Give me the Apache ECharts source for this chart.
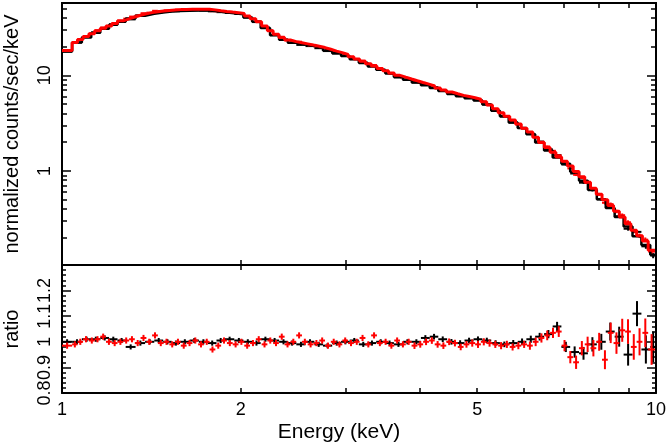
<!DOCTYPE html>
<html><head><meta charset="utf-8">
<script src="https://cdn.jsdelivr.net/npm/echarts@6/dist/echarts.min.js"></script>
<style>html,body{margin:0;padding:0;background:#fff}#c{width:666px;height:443px}</style>
</head><body><div id="c"></div>
<script>
// ---- data (energy bin edges in keV) ----
const blackEdges = [1.00,1.04,1.08,1.12,1.16,1.20,1.24,1.28,1.33,1.38,1.43,1.48,1.53,1.58,1.64,1.70,1.76,1.82,1.88,1.95,2.02,2.09,2.16,2.24,2.32,2.40,2.48,2.57,2.66,2.75,2.85,2.95,3.05,3.16,3.27,3.38,3.50,3.62,3.75,3.88,4.02,4.16,4.30,4.45,4.60,4.76,4.93,5.10,5.28,5.46,5.65,5.85,6.05,6.26,6.48,6.70,6.93,7.17,7.42,7.68,7.95,8.23,8.52,8.82,9.13,9.45,9.78,10.0];
const redEdges = [1.000,1.040,1.062,1.085,1.110,1.135,1.160,1.186,1.213,1.240,
 1.268,1.297,1.326,1.356,1.387,1.418,1.450,1.483,1.516,1.550,
 1.585,1.621,1.658,1.695,1.733,1.772,1.812,1.853,1.895,1.938,
 1.982,2.027,2.073,2.120,2.168,2.217,2.267,2.318,2.370,2.424,
 2.479,2.535,2.592,2.651,2.711,2.772,2.835,2.899,2.964,3.031,
 3.100,3.170,3.242,3.315,3.390,3.467,3.545,3.625,3.707,3.791,
 3.877,3.965,4.055,4.147,4.241,4.337,4.435,4.535,4.638,4.743,
 4.850,4.960,5.072,5.187,5.304,5.424,5.547,5.672,5.800,5.931,
 6.065,6.202,6.342,6.486,6.633,6.783,6.936,7.093,7.254,7.418,
 7.586,7.757,7.933,8.112,8.296,8.483,8.675,8.871,9.072,9.277,
 9.487,9.701,9.960];

// model (normalized counts/sec/keV), one value per bin
const blackModel = [17.7,22.0,24.9,27.8,30.7,33.8,36.4,39.2,42.0,43.9,
 45.4,46.4,47.0,47.3,47.6,47.5,46.9,45.5,44.4,43.5,
 40.3,36.2,31.2,26.2,23.6,21.9,21.0,20.2,19.4,18.2,
 17.0,15.9,14.7,13.5,12.4,11.4,10.5,9.61,8.98,8.42,
 7.89,7.37,6.87,6.39,6.06,5.75,5.45,4.94,4.27,3.74,
 3.22,2.81,2.42,1.99,1.64,1.38,1.19,0.98,0.79,0.635,
 0.505,0.41,0.33,0.262,0.208,0.168,0.133];
const redModel = [18.2,22.0,23.7,25.4,27.2,29.2,31.0,32.8,34.9,37.1,
 38.9,40.7,42.5,43.9,45.2,46.1,47.1,47.7,48.2,48.6,
 48.8,49.1,49.1,49.1,48.9,48.3,47.3,46.5,45.8,45.2,
 44.2,41.8,39.1,36.2,32.7,29.3,26.8,24.8,23.4,22.5,
 21.9,21.3,20.7,20.15,19.5,18.7,17.9,17.25,16.5,15.6,
 14.8,14.0,13.2,12.5,11.8,11.15,10.55,10.0,9.56,9.16,
 8.78,8.42,8.08,7.74,7.37,7.02,6.69,6.42,6.17,6.0,
 5.83,5.63,5.30,4.90,4.48,4.06,3.73,3.41,3.10,2.80,
 2.55,2.25,1.99,1.76,1.57,1.40,1.26,1.13,0.99,0.87,
 0.76,0.66,0.57,0.50,0.435,0.38,0.33,0.28,0.24,0.21,
 0.185,0.148];

// data / model ratio and its 1-sigma error
const blackRatio = [1.00,1.00,1.01,1.01,1.015,1.01,1.005,0.98,0.995,1.0,
 1.005,1.0,0.995,1.0,1.005,1.0,0.995,1.005,1.01,1.005,
 1.0,0.995,1.01,1.005,1.0,0.995,0.99,1.0,0.99,0.985,
 0.995,1.0,1.005,0.99,0.995,1.0,0.995,0.99,1.0,1.0,
 1.015,1.02,1.01,1.0,0.995,1.005,1.01,1.005,0.995,0.99,
 0.995,1.0,1.01,1.02,1.03,1.06,0.98,0.96,0.955,0.99,
 1.0,1.04,1.02,0.95,1.11,0.97,0.98];
const blackErr = [0.010,0.010,0.010,0.010,0.010,0.010,0.010,0.010,0.010,0.010,
 0.010,0.010,0.010,0.010,0.010,0.010,0.010,0.010,0.010,0.010,
 0.010,0.010,0.010,0.010,0.010,0.010,0.010,0.010,0.010,0.010,
 0.010,0.010,0.010,0.010,0.010,0.010,0.010,0.010,0.010,0.010,
 0.011,0.011,0.011,0.011,0.011,0.011,0.011,0.011,0.011,0.011,
 0.012,0.013,0.014,0.015,0.016,0.018,0.020,0.022,0.025,0.028,
 0.031,0.035,0.039,0.043,0.049,0.055,0.060];
const redRatio = [0.985,0.99,1.0,1.01,1.005,1.01,1.02,1.0,0.995,1.0,
 1.005,1.01,0.995,1.015,1.0,1.025,0.995,1.0,0.99,1.0,
 0.985,0.995,1.005,0.99,1.0,0.97,0.985,1.005,0.995,0.99,
 1.0,0.985,0.995,1.01,0.99,1.005,0.995,1.02,0.99,1.0,
 1.025,1.0,0.99,0.995,1.005,0.985,1.0,0.99,1.005,0.995,
 1.0,1.015,0.99,1.025,0.995,1.0,0.985,1.005,0.99,1.0,
 0.985,0.99,1.0,1.005,0.99,0.985,1.0,0.995,0.98,0.99,
 0.995,0.99,1.0,0.995,0.99,0.985,0.99,0.98,0.985,0.99,
 0.985,1.0,1.015,1.025,1.035,1.04,0.985,0.94,0.92,0.975,
 0.99,0.975,1.0,0.93,1.035,0.995,1.045,1.04,0.98,1.0,
 1.035,0.97];
const redErr = [0.012,0.012,0.012,0.012,0.012,0.012,0.012,0.012,0.012,0.012,
 0.012,0.012,0.012,0.012,0.012,0.012,0.012,0.012,0.012,0.012,
 0.012,0.012,0.012,0.012,0.012,0.012,0.012,0.012,0.012,0.012,
 0.012,0.012,0.012,0.012,0.012,0.012,0.012,0.012,0.012,0.012,
 0.012,0.012,0.012,0.012,0.012,0.012,0.012,0.012,0.012,0.012,
 0.012,0.012,0.012,0.012,0.012,0.012,0.012,0.012,0.012,0.012,
 0.013,0.013,0.013,0.013,0.013,0.013,0.013,0.013,0.013,0.013,
 0.014,0.014,0.014,0.014,0.014,0.014,0.014,0.014,0.014,0.014,
 0.016,0.017,0.018,0.019,0.020,0.021,0.022,0.024,0.026,0.028,
 0.030,0.032,0.035,0.037,0.040,0.042,0.045,0.048,0.050,0.053,
 0.056,0.060];

// ticks & labels
const xTickVals = [1,2,3,4,5,6,7,8,9,10];
const xLabelVals = [1,2,5,10];
const yTopMajor = [1,10];
const yTopMinor = [0.2,0.3,0.4,0.5,0.6,0.7,0.8,0.9,2,3,4,5,6,7,8,9,20,30,40,50];
const ratioLabelVals = [0.8,0.9,1,1.1,1.2];

// ---- build series data ----
function stepLine(edges, vals){
  const pts = [];
  for (let i = 0; i < vals.length; i++){ pts.push([edges[i], vals[i]]); pts.push([edges[i+1], vals[i]]); }
  return pts;
}
function crossData(edges, ratio, err, model){
  const out = [];
  for (let i = 0; i < ratio.length; i++){
    const lo = edges[i], hi = edges[i+1], c = (lo+hi)/2;
    const m = model ? model[i] : 1;
    const v = ratio[i]*m, e = err[i]*m;
    out.push([lo, hi, c, v, v-e, v+e]);
  }
  return out;
}
function crossItem(params, api){
  const a = api.coord([api.value(0), api.value(3)]);
  const b = api.coord([api.value(1), api.value(3)]);
  const c = api.coord([api.value(2), api.value(4)]);
  const d = api.coord([api.value(2), api.value(5)]);
  const col = api.visual('color');
  return {type:'group', children:[
    {type:'line', shape:{x1:a[0],y1:a[1],x2:b[0],y2:b[1]}, style:{stroke:col, lineWidth:2}},
    {type:'line', shape:{x1:c[0],y1:c[1],x2:d[0],y2:d[1]}, style:{stroke:col, lineWidth:2}}
  ]};
}

const FONT = 'Liberation Sans, Arial, Helvetica, sans-serif';
const lineS = {show:true, lineStyle:{color:'#000', width:2}};
const lbl = {fontFamily:FONT, fontSize:18, color:'#000'};
const ttl = {fontFamily:FONT, fontSize:20, color:'#000'};

function xAx(grid, pos, labels){
  return {
    type:'log', logBase:10, gridIndex:grid, position:pos, min:1, max:10,
    axisLine: lineS,
    axisTick:{show:true, inside:true, length:5, customValues:xTickVals, lineStyle:{color:'#000', width:1.5}},
    axisLabel: labels ? Object.assign({show:true, margin:8, customValues:xLabelVals}, lbl) : {show:false},
    minorTick:{show:false}, splitLine:{show:false},
    name: labels ? 'Energy (keV)' : '', nameLocation:'middle', nameGap:29,
    nameTextStyle: Object.assign({}, ttl, {fontSize:21, padding:[0,40,0,0]})
  };
}
function yTop(pos, major, labels){
  return {
    type:'log', logBase:10, gridIndex:0, position:pos, min:0.104, max:57,
    axisLine: lineS,
    axisTick:{show:true, inside:true, length: major?9:5, customValues: major?yTopMajor:yTopMinor, lineStyle:{color:'#000', width:1.5}},
    axisLabel: labels ? Object.assign({show:true, rotate:90, margin:8, customValues:yTopMajor}, lbl) : {show:false},
    splitLine:{show:false}, minorTick:{show:false},
    name: labels ? 'normalized counts/sec/keV' : '', nameLocation:'middle', nameGap:40, nameRotate:90,
    nameTextStyle: ttl
  };
}
function yRatio(pos, labels){
  return {
    type:'value', gridIndex:1, position:pos, min:0.8, max:1.3, interval:0.1,
    axisLine: lineS,
    axisTick:{show:true, inside:true, length:9, lineStyle:{color:'#000', width:1.5}},
    minorTick:{show:true, splitNumber:5, length:4, lineStyle:{color:'#000', width:1.5}},
    axisLabel: labels ? Object.assign({show:true, rotate:90, margin:8, customValues:ratioLabelVals}, lbl) : {show:false},
    splitLine:{show:false}, minorSplitLine:{show:false},
    name: labels ? 'ratio' : '', nameLocation:'middle', nameGap:40, nameRotate:90,
    nameTextStyle: ttl
  };
}

const chart = echarts.init(document.getElementById('c'), null, {renderer:'canvas'});
chart.setOption({
  animation:false,
  backgroundColor:'#fff',
  grid:[
    {left:62, right:10, top:3, height:262, containLabel:false, outerBoundsMode:'none'},
    {left:62, right:10, top:265, height:128, containLabel:false, outerBoundsMode:'none'}
  ],
  xAxis:[ xAx(0,'bottom',false), xAx(0,'top',false), xAx(1,'bottom',true), xAx(1,'top',false) ],
  yAxis:[ yTop('left',true,true), yTop('left',false,false), yTop('right',true,false), yTop('right',false,false),
          yRatio('left',true), yRatio('right',false) ],
  series:[
    {type:'custom', xAxisIndex:0, yAxisIndex:0, renderItem:crossItem, itemStyle:{color:'#000'}, data:crossData(blackEdges, blackRatio, blackErr, blackModel), silent:true},
    {type:'line', xAxisIndex:0, yAxisIndex:0, data:stepLine(blackEdges, blackModel), showSymbol:false, lineStyle:{color:'#000', width:2.5}, silent:true},
    {type:'custom', xAxisIndex:0, yAxisIndex:0, renderItem:crossItem, itemStyle:{color:'#ff0000'}, data:crossData(redEdges, redRatio, redErr, redModel), silent:true},
    {type:'line', xAxisIndex:0, yAxisIndex:0, data:stepLine(redEdges, redModel), showSymbol:false, lineStyle:{color:'#ff0000', width:3}, silent:true},
    {type:'custom', xAxisIndex:2, yAxisIndex:4, renderItem:crossItem, itemStyle:{color:'#000'}, data:crossData(blackEdges, blackRatio, blackErr, null), silent:true},
    {type:'custom', xAxisIndex:2, yAxisIndex:4, renderItem:crossItem, itemStyle:{color:'#ff0000'}, data:crossData(redEdges, redRatio, redErr, null), silent:true}
  ]
});
</script></body></html>
